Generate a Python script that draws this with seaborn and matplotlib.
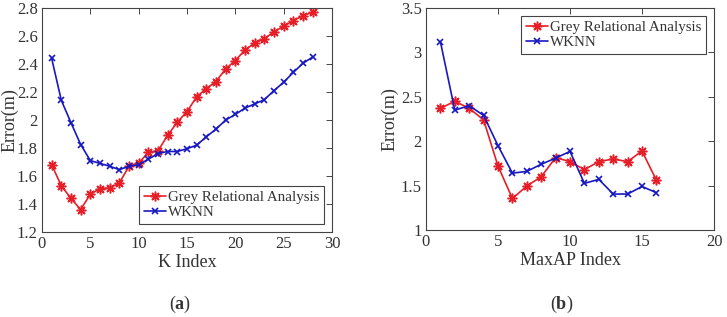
import matplotlib
matplotlib.use("Agg")
import matplotlib.pyplot as plt
import seaborn as sns
import numpy as np
import pandas as pd

k_index = list(range(1, 29))
gra_k = [1.68, 1.53, 1.44, 1.36, 1.47, 1.51, 1.515, 1.55, 1.67, 1.69, 1.77, 1.78,
         1.89, 1.985, 2.06, 2.165, 2.225, 2.275, 2.365, 2.425, 2.50, 2.55, 2.58,
         2.63, 2.67, 2.71, 2.745, 2.77]
wknn_k = [2.44, 2.14, 1.98, 1.825, 1.71, 1.69, 1.67, 1.645, 1.67, 1.68, 1.72, 1.76,
          1.775, 1.775, 1.795, 1.82, 1.88, 1.935, 2.0, 2.04, 2.085, 2.115, 2.145,
          2.21, 2.27, 2.34, 2.405, 2.45]

maxap_index = list(range(1, 17))
gra_ap = [2.37, 2.45, 2.37, 2.24, 1.72, 1.355, 1.495, 1.60, 1.815, 1.77, 1.68, 1.77,
          1.80, 1.77, 1.89, 1.56]
wknn_ap = [3.12, 2.35, 2.40, 2.29, 1.95, 1.64, 1.66, 1.74, 1.81, 1.885, 1.525, 1.57,
           1.405, 1.405, 1.49, 1.42]

labels = ["Grey Relational Analysis", "WKNN"]

sns.set_theme(style="white")
plt.rcParams['font.family'] = ['Liberation Serif', 'DejaVu Serif']
plt.rcParams['mathtext.fontset'] = 'custom'
plt.rcParams['mathtext.bf'] = 'Liberation Serif:bold'
plt.rcParams['mathtext.rm'] = 'Liberation Serif'

RED = '#e61e28'
BLUE = '#1818c0'
SPINE = '#444444'
TXT = '#333333'

fig = plt.figure(figsize=(7.27, 3.17), dpi=100)
W, H = 727, 317
ax1 = fig.add_axes([42 / W, 1 - 232 / H, 290 / W, 224 / H])
ax2 = fig.add_axes([426 / W, 1 - 230 / H, 288 / W, 222 / H])

def draw(ax, x, y1, y2):
    sns.lineplot(x=x, y=y1, ax=ax, color=RED, marker=(8, 2, 0), markersize=7,
                 markeredgewidth=1.1, markeredgecolor=RED, linewidth=1.2, label=labels[0])
    sns.lineplot(x=x, y=y2, ax=ax, color=BLUE, marker='x', markersize=5,
                 markeredgewidth=1.2, markeredgecolor=BLUE, linewidth=1.2, label=labels[1])

draw(ax1, k_index, gra_k, wknn_k)
draw(ax2, maxap_index, gra_ap, wknn_ap)

ax1.set_xlim(0, 30)
ax1.set_ylim(1.2, 2.8)
ax1.set_xticks([0, 5, 10, 15, 20, 25, 30])
ax1.set_yticks([1.2, 1.4, 1.6, 1.8, 2.0, 2.2, 2.4, 2.6, 2.8])
ax1.set_yticklabels(['1.2', '1.4', '1.6', '1.8', '2', '2.2', '2.4', '2.6', '2.8'])
ax1.set_xlabel("K Index", fontsize=13, color=TXT, labelpad=1)
ax1.set_ylabel("Error(m)", fontsize=13, color=TXT)
ax1.yaxis.set_label_coords((19 - 42) / 290, 0.5)

ax2.set_xlim(0, 20)
ax2.set_ylim(1, 3.5)
ax2.set_xticks([0, 5, 10, 15, 20])
ax2.set_yticks([1, 1.5, 2, 2.5, 3, 3.5])
ax2.set_yticklabels(['1', '1.5', '2', '2.5', '3', '3.5'])
ax2.set_xlabel("MaxAP Index", fontsize=13, color=TXT, labelpad=1)
ax2.set_ylabel("Error(m)", fontsize=13, color=TXT)
ax2.yaxis.set_label_coords((399 - 426) / 288, 0.5)

for ax in (ax1, ax2):
    for s in ax.spines.values():
        s.set_visible(True)
        s.set_color(SPINE)
        s.set_linewidth(0.8)
    ax.tick_params(direction='in', length=4, width=0.7, color=SPINE,
                   top=True, right=True, labelsize=12, labelcolor=TXT, pad=3)

legkw = dict(fontsize=10.8, frameon=True, fancybox=False, borderpad=0.3,
             labelspacing=0.1, handlelength=1.45, handletextpad=0.15, borderaxespad=0.55)
leg1 = ax1.legend(loc='lower right', **legkw)
leg2 = ax2.legend(loc='upper right', **legkw)
for leg in (leg1, leg2):
    leg.get_frame().set_edgecolor(SPINE)
    leg.get_frame().set_linewidth(0.8)
    leg.get_frame().set_alpha(1)
    for t in leg.get_texts():
        t.set_color(TXT)

fig.text(180 / W, 1 - 304 / H, r"($\mathbf{a}$)", ha='center', va='center', fontsize=13, color=TXT)
fig.text(562 / W, 1 - 304 / H, r"($\mathbf{b}$)", ha='center', va='center', fontsize=13, color=TXT)

fig.savefig("out.png", dpi=100)
